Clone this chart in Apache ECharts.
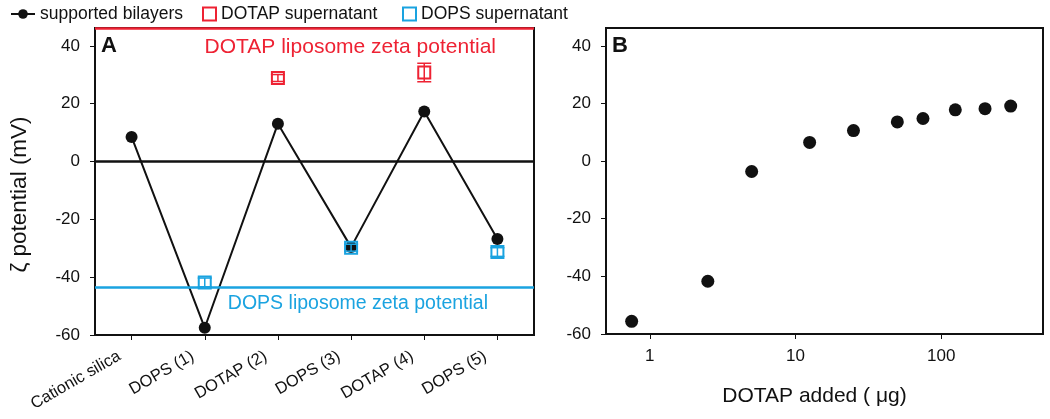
<!DOCTYPE html>
<html>
<head>
<meta charset="utf-8">
<script src="https://cdn.jsdelivr.net/npm/echarts@6/dist/echarts.min.js"></script>
<style>
html,body{margin:0;padding:0;background:#fff;}
#chart{width:1050px;height:419px;}
</style>
</head>
<body>
<div id="chart"></div>
<script>
// ---------- data ----------
const categories = ['Cationic silica', 'DOPS (1)', 'DOTAP (2)', 'DOPS (3)', 'DOTAP (4)', 'DOPS (5)'];
const bilayerZeta = [8.5, -57.5, 13.1, -29.6, 17.3, -26.8];

const dotapSupCats = ['DOTAP (2)', 'DOTAP (4)'];
const dotapSupMean = [28.9, 30.8];
const dotapSupErr = [1.2, 3.2];

const dopsSupCats = ['DOPS (1)', 'DOPS (3)', 'DOPS (5)'];
const dopsSupMean = [-41.8, -29.8, -31.3];
const dopsSupErr = [1.5, 1.2, 1.5];

const dotapLiposomeZeta = 46.2;
const dopsLiposomeZeta = -43.5;

const yTicks = [-60, -40, -20, 0, 20, 40];

const dotapAdded = [0.75, 2.5, 5, 12.5, 25, 50, 75, 125, 200, 300];
const titrationZeta = [-55.6, -41.7, -3.6, 6.5, 10.6, 13.6, 14.8, 17.8, 18.2, 19.1];
const logTicks = [1, 10, 100];

// ---------- styling ----------
const FONT = "'Liberation Sans', Arial, sans-serif";
const RED = '#ee2233';
const BLUE = '#1aa3e0';
const BLACK = '#111';

function zip3(a, b, c) { return a.map((v, i) => [v, b[i], c[i]]); }

function errorBarRender(color) {
  return function (params, api) {
    const x = api.value(0), m = api.value(1), e = api.value(2);
    const top = api.coord([x, m + e]);
    const bot = api.coord([x, m - e]);
    const cap = 7;
    const style = { stroke: color, lineWidth: 1.5, fill: null };
    return {
      type: 'group',
      children: [
        { type: 'line', shape: { x1: top[0], y1: top[1], x2: bot[0], y2: bot[1] }, style },
        { type: 'line', shape: { x1: top[0] - cap, y1: top[1], x2: top[0] + cap, y2: top[1] }, style },
        { type: 'line', shape: { x1: bot[0] - cap, y1: bot[1], x2: bot[0] + cap, y2: bot[1] }, style }
      ]
    };
  };
}

const axisLineStyle = { show: true, onZero: false, lineStyle: { color: BLACK, width: 2 } };
const tickLabelStyle = { fontFamily: FONT, fontSize: 17, color: BLACK };
const legendText = { fontFamily: FONT, fontSize: 17.5, color: BLACK };

const yAxisCommon = {
  type: 'value', min: -60, max: dotapLiposomeZeta, interval: 20,
  axisLine: axisLineStyle,
  axisTick: { show: true, length: 5, inside: false, customValues: yTicks, lineStyle: { color: BLACK, width: 1 } },
  axisLabel: Object.assign({ margin: 15, customValues: yTicks }, tickLabelStyle),
  splitLine: { show: false }
};

const option = {
  animation: false,
  backgroundColor: '#fff',
  textStyle: { fontFamily: FONT },
  title: [
    { text: 'A', left: 101, top: 35, padding: 0, textStyle: { fontFamily: FONT, fontSize: 22, fontWeight: 'bold', color: BLACK } },
    { text: 'B', left: 612, top: 35, padding: 0, textStyle: { fontFamily: FONT, fontSize: 22, fontWeight: 'bold', color: BLACK } }
  ],
  legend: [
    { data: ['supported bilayers'], left: 10, top: 5, padding: 0, itemWidth: 24, itemHeight: 12,
      textStyle: legendText },
    { data: ['DOTAP supernatant'], left: 202, top: 5, padding: 0, itemWidth: 13, itemHeight: 13,
      itemStyle: { color: 'rgba(255,255,255,0)', borderColor: RED, borderWidth: 2 },
      textStyle: legendText },
    { data: ['DOPS supernatant'], left: 402, top: 5, padding: 0, itemWidth: 13, itemHeight: 13,
      itemStyle: { color: 'rgba(255,255,255,0)', borderColor: BLUE, borderWidth: 2 },
      textStyle: legendText }
  ],
  grid: [
    { left: 95, top: 28, width: 439, height: 307, show: true, borderColor: BLACK, borderWidth: 2, backgroundColor: 'transparent' },
    { left: 606, top: 28, width: 437, height: 306, show: true, borderColor: BLACK, borderWidth: 2, backgroundColor: 'transparent' }
  ],
  xAxis: [
    { type: 'category', gridIndex: 0, data: categories, boundaryGap: true,
      axisLine: axisLineStyle,
      axisTick: { show: true, alignWithLabel: true, length: 5, lineStyle: { color: BLACK, width: 1 } },
      axisLabel: { rotate: 30, margin: 13, interval: 0, padding: [0, 14, 0, 0], fontFamily: FONT, fontSize: 16.5, color: BLACK },
      splitLine: { show: false } },
    { type: 'log', logBase: 10, gridIndex: 1, min: 0.5, max: 500,
      axisLine: axisLineStyle,
      axisTick: { show: true, length: 5, customValues: logTicks, lineStyle: { color: BLACK, width: 1 } },
      axisLabel: Object.assign({ margin: 14, customValues: logTicks }, tickLabelStyle),
      minorTick: { show: false },
      splitLine: { show: false },
      name: 'DOTAP added ( μg)', nameLocation: 'middle', nameGap: 52,
      nameTextStyle: { fontFamily: FONT, fontSize: 21, color: BLACK, padding: [0, 20, 0, 0] } }
  ],
  yAxis: [
    Object.assign({}, yAxisCommon, { gridIndex: 0, name: 'ζ potential (mV)', nameLocation: 'middle', nameGap: 64,
      nameTextStyle: { fontFamily: FONT, fontSize: 22.5, color: BLACK, padding: [0, 26, 0, 0] } }),
    Object.assign({}, yAxisCommon, { gridIndex: 1 })
  ],
  series: [
    {
      name: 'supported bilayers', type: 'line', xAxisIndex: 0, yAxisIndex: 0,
      data: bilayerZeta,
      symbol: 'circle', symbolSize: 12,
      lineStyle: { color: BLACK, width: 2 },
      itemStyle: { color: BLACK, opacity: 1 },
      z: 3,
      markLine: {
        silent: true, symbol: ['none', 'none'], animation: false,
        data: [
          { yAxis: 0, lineStyle: { color: BLACK, width: 2.5, type: 'solid' }, label: { show: false } },
          { yAxis: dotapLiposomeZeta, lineStyle: { color: RED, width: 2.5, type: 'solid' },
            label: { show: true, formatter: 'DOTAP liposome zeta potential', position: 'insideEndBottom',
              distance: [38, 9], color: RED, fontFamily: FONT, fontSize: 21 } },
          { yAxis: dopsLiposomeZeta, lineStyle: { color: BLUE, width: 2.5, type: 'solid' },
            label: { show: true, formatter: 'DOPS liposome zeta potential', position: 'insideEndBottom',
              distance: [46, 6], color: BLUE, fontFamily: FONT, fontSize: 19.5 } }
        ]
      }
    },
    {
      name: 'DOTAP supernatant', type: 'scatter', xAxisIndex: 0, yAxisIndex: 0,
      data: dotapSupCats.map((c, i) => [c, dotapSupMean[i]]),
      symbol: 'rect', symbolSize: 12,
      itemStyle: { color: 'rgba(255,255,255,0)', borderColor: RED, borderWidth: 2, opacity: 1 },
      z: 5
    },
    {
      name: 'DOTAP supernatant error', type: 'custom', xAxisIndex: 0, yAxisIndex: 0,
      data: zip3(dotapSupCats, dotapSupMean, dotapSupErr),
      renderItem: errorBarRender(RED), z: 6
    },
    {
      name: 'DOPS supernatant', type: 'scatter', xAxisIndex: 0, yAxisIndex: 0,
      data: dopsSupCats.map((c, i) => [c, dopsSupMean[i]]),
      symbol: 'rect', symbolSize: 12,
      itemStyle: { color: 'rgba(255,255,255,0)', borderColor: BLUE, borderWidth: 2, opacity: 1 },
      z: 5
    },
    {
      name: 'DOPS supernatant error', type: 'custom', xAxisIndex: 0, yAxisIndex: 0,
      data: zip3(dopsSupCats, dopsSupMean, dopsSupErr),
      renderItem: errorBarRender(BLUE), z: 6
    },
    {
      name: 'titration', type: 'scatter', xAxisIndex: 1, yAxisIndex: 1,
      data: dotapAdded.map((x, i) => [x, titrationZeta[i]]),
      symbol: 'circle', symbolSize: 13,
      itemStyle: { color: BLACK, opacity: 1 }
    }
  ]
};

const chart = echarts.init(document.getElementById('chart'), null, { renderer: 'canvas' });
chart.setOption(option);
</script>
</body>
</html>
